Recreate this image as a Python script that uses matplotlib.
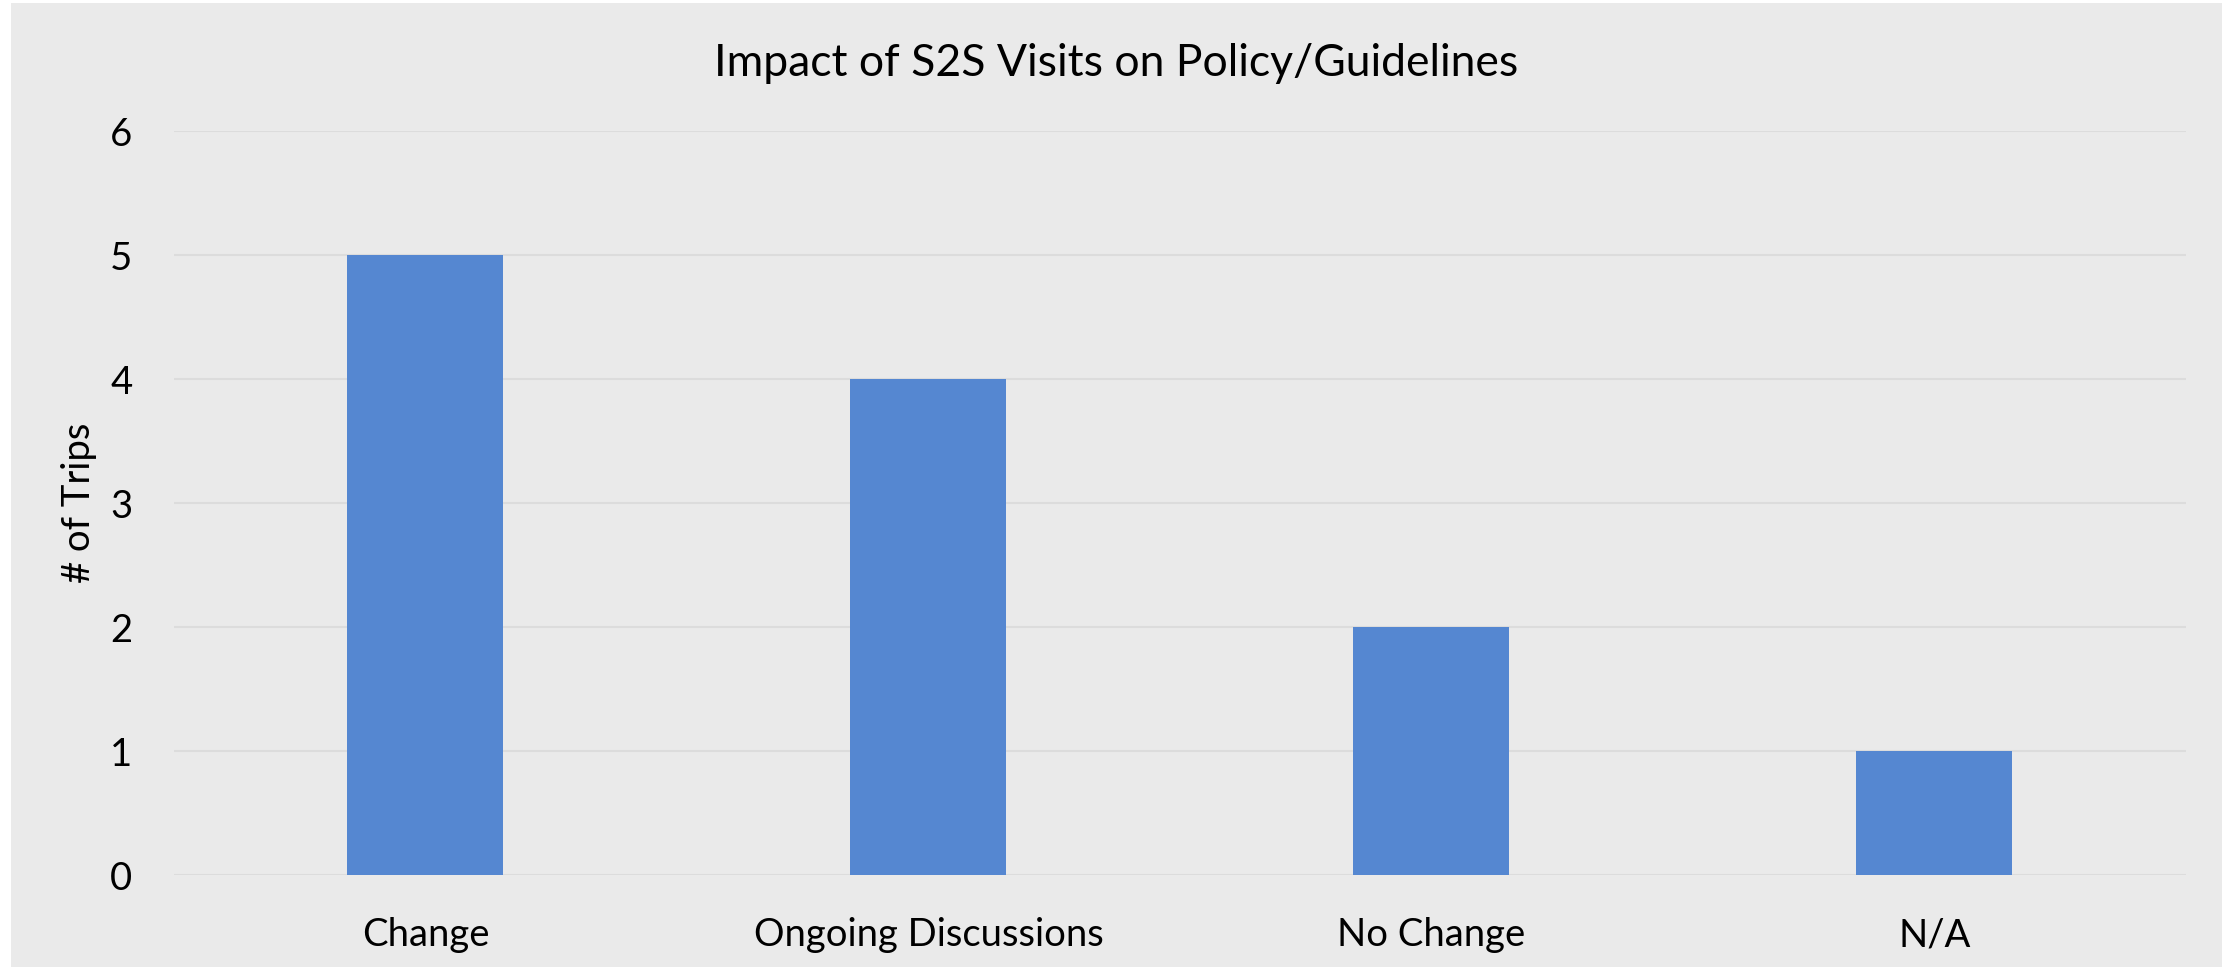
import matplotlib.pyplot as plt
from matplotlib.patches import Rectangle

categories = ["Change", "Ongoing Discussions", "No Change", "N/A"]
trips = [5, 4, 2, 1]
yticks = [0, 1, 2, 3, 4, 5, 6]

plt.rcParams["font.family"] = ["Lato", "DejaVu Sans"]

fig = plt.figure(figsize=(22.33, 9.68), dpi=100)
fig.patch.set_facecolor("white")
# grey chart area like the Excel export
fig.patches.append(Rectangle((11 / 2233, 1 / 968), 2211 / 2233, 964 / 968,
                             transform=fig.transFigure, facecolor="#eaeaea",
                             edgecolor="none", zorder=-10))

ax = fig.add_axes([0.0779, 0.0956, 0.901, 0.769])
ax.set_zorder(5)
ax.set_facecolor("none")
x = range(len(categories))
ax.bar(x, trips, width=0.31, color="#5587d1", zorder=3)
ax.set_xlim(-0.5, len(categories) - 0.5)
ax.set_ylim(0, 6)
ax.set_yticks(yticks)
ax.set_xticks(list(x))
ax.set_xticklabels(categories)
ax.tick_params(axis="both", length=0, labelsize=27.5)
ax.tick_params(axis="y", pad=30)
ax.tick_params(axis="x", pad=30)
ax.grid(axis="y", color="#dcdcdc", linewidth=1.5, zorder=1)
for s in ax.spines.values():
    s.set_visible(False)
ax.set_ylabel("# of Trips", fontsize=27.5, labelpad=9)
fig.text(0.5, 0.934, "Impact of S2S Visits on Policy/Guidelines",
         ha="center", va="center", fontsize=32)

fig.savefig("out.png", dpi=100)
